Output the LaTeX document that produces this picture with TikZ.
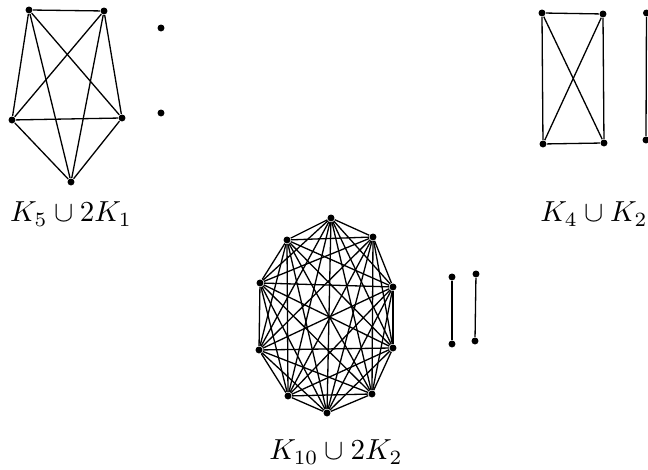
\documentclass[tikz,border=0pt]{standalone}
\begin{document}
\begin{tikzpicture}[x=0.345pt,y=-0.345pt,
		vtx/.style={circle, fill, inner sep=0pt, minimum size=2.4pt},
		every path/.style={line width=0.45pt}]
		\useasboundingbox (0,0) rectangle (648,470);
		
		% K5 and two isolated vertices
		\node[vtx] (a1) at (29,10) {};
		\node[vtx] (a2) at (104,11) {};
		\node[vtx] (a3) at (12,120) {};
		\node[vtx] (a4) at (122,118) {};
		\node[vtx] (a5) at (71,182) {};
		\foreach \i/\j in {1/2,1/3,1/4,1/5,2/3,2/4,2/5,3/4,3/5,4/5}
		\draw (a\i) -- (a\j);
		\node[vtx] (b1) at (161,28) {};
		\node[vtx] (b2) at (161,113) {};
		\node (lab1) at (71,214) {$K_5\cup 2K_1$};
		
		% K4 and K2
		\node[vtx] (d1) at (542,13) {};
		\node[vtx] (d2) at (603,14) {};
		\node[vtx] (d3) at (543,144) {};
		\node[vtx] (d4) at (604,143) {};
		\foreach \i/\j in {1/2,1/3,1/4,2/3,2/4,3/4}
		\draw (d\i) -- (d\j);
		\node[vtx] (e1) at (646.5,13) {};
		\node[vtx] (e2) at (646,140) {};
		\draw (e1) -- (e2);
		\node (lab2) at (594,214) {$K_4\cup K_2$};
		
		% K10 and 2K2
		\node[vtx] (c1) at (331,218) {};
		\node[vtx] (c2) at (373,237) {};
		\node[vtx] (c3) at (393,287) {};
		\node[vtx] (c4) at (393,348) {};
		\node[vtx] (c5) at (372,394) {};
		\node[vtx] (c6) at (327,413) {};
		\node[vtx] (c7) at (288,396) {};
		\node[vtx] (c8) at (259,350) {};
		\node[vtx] (c9) at (260,283) {};
		\node[vtx] (c10) at (287,240) {};
		\foreach \i in {1,...,9} {
			\pgfmathtruncatemacro\k{\i+1}
			\foreach \j in {\k,...,10}
			\draw (c\i) -- (c\j);
		}
		\node[vtx] (f1) at (452,277) {};
		\node[vtx] (f2) at (452,344) {};
		\node[vtx] (f3) at (476,274) {};
		\node[vtx] (f4) at (475,341) {};
		\draw (f1) -- (f2);
		\draw (f3) -- (f4);
		\node (lab3) at (336,452) {$K_{10}\cup 2K_2$};
	\end{tikzpicture}
\end{document}
